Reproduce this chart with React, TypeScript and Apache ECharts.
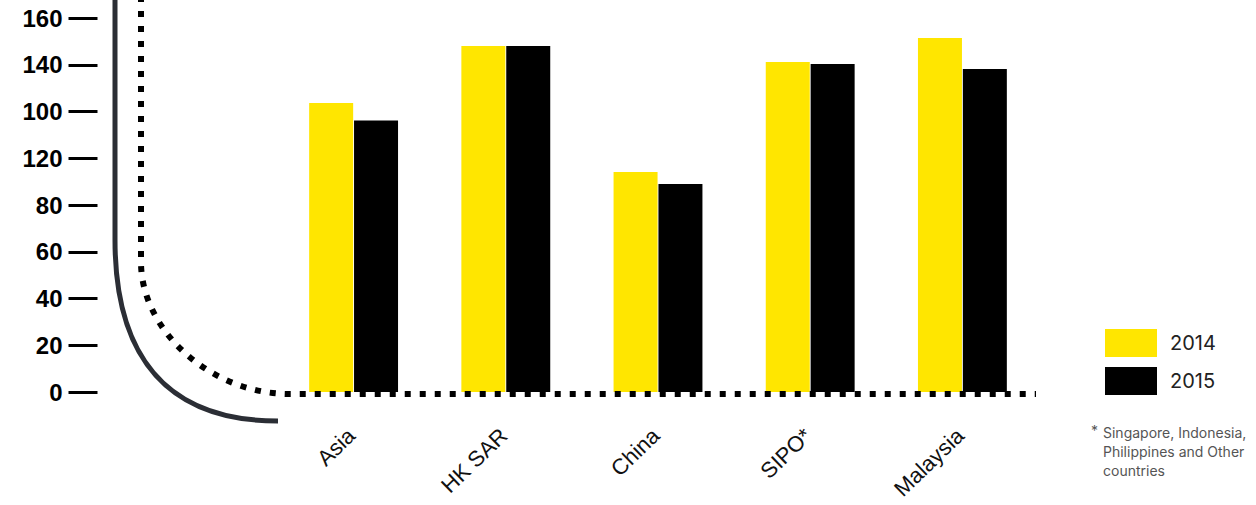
import React, { useEffect, useRef } from "react";
import * as echarts from "echarts";

const categories = ["Asia", "HK SAR", "China", "SIPO*", "Malaysia"];
const values2014 = [123.6, 148, 94.1, 141.2, 151.4];
const values2015 = [116.1, 148, 89.0, 140.3, 138.2];
const yTickLabels = ["0", "20", "40", "60", "80", "120", "100", "140", "160"];
const seriesNames = ["2014", "2015"];
const footnoteLines = ["Singapore, Indonesia,", "Philippines and Other", "countries"];

const YELLOW = "#FFE600";
const BLACK = "#000000";

echarts.graphic.registerShape(
  "solidCurve",
  echarts.graphic.extendPath("M115,-6 L115,240 C115,360 170,421 278,421", {})
);
echarts.graphic.registerShape(
  "dottedCurve",
  echarts.graphic.extendPath("M141,-4 L141,262 C141,330 210,394 290,394 L1036,394", {})
);

export default function App() {
  const ref = useRef<HTMLDivElement>(null);
  useEffect(() => {
    if (!ref.current) return;
    const chart = echarts.init(ref.current, undefined, { renderer: "svg" });
    chart.setOption({
      animation: false,
      backgroundColor: "#ffffff",
      grid: { left: 277.5, right: 217.5, top: 18, bottom: 113, containLabel: false },
      legend: {
        data: seriesNames,
        orient: "vertical",
        left: 1105,
        top: 329,
        padding: 0,
        itemWidth: 52,
        itemHeight: 28,
        itemGap: 10,
        icon: "rect",
        selectedMode: false,
        textStyle: { fontSize: 20, color: "#222", fontFamily: "Inter", padding: [0, 0, 0, 8] },
      },
      xAxis: {
        type: "category",
        data: categories,
        axisLine: { show: false },
        axisTick: { show: false },
        splitLine: { show: false },
        axisLabel: {
          rotate: 44,
          margin: 38,
          fontSize: 22,
          color: "#111",
          fontFamily: "Liberation Sans",
          interval: 0,
          padding: [0, 3, 0, 0],
        },
      },
      yAxis: {
        type: "value",
        min: 0,
        max: 160,
        interval: 20,
        position: "left",
        offset: 180,
        axisLine: { show: false },
        splitLine: { show: false },
        axisTick: { show: true, length: 29, lineStyle: { color: "#000", width: 3 } },
        axisLabel: {
          margin: 35,
          fontSize: 24,
          fontWeight: "bold",
          color: "#000",
          fontFamily: "Liberation Sans",
          formatter: (v: number) => yTickLabels[Math.round(v / 20)] ?? "",
        },
      },
      series: [
        {
          name: seriesNames[0],
          type: "bar",
          data: values2014,
          barWidth: 44,
          barGap: "2%",
          itemStyle: { color: YELLOW },
        },
        {
          name: seriesNames[1],
          type: "bar",
          data: values2015,
          barWidth: 44,
          barGap: "2%",
          itemStyle: { color: BLACK },
        },
      ],
      graphic: [
        {
          type: "solidCurve",
          x: 0,
          y: 0,
          z: 100,
          silent: true,
          style: { fill: "none", stroke: "#2b2e35", lineWidth: 5 },
        },
        {
          type: "dottedCurve",
          x: 0,
          y: 0,
          z: 100,
          silent: true,
          style: { fill: "none", stroke: "#000", lineWidth: 6, lineDash: [6, 9] },
        },
        {
          type: "text",
          x: 1091,
          y: 423,
          z: 100,
          style: { text: "*", fontSize: 14, fill: "#555", fontFamily: "Inter" },
        },
        {
          type: "text",
          x: 1103,
          y: 423,
          z: 100,
          style: {
            text: footnoteLines.join("\n"),
            fontSize: 14,
            lineHeight: 19,
            fill: "#555",
            fontFamily: "Inter",
          },
        },
      ],
    });
    return () => chart.dispose();
  }, []);
  return (
    <div
      ref={ref}
      style={{ position: "absolute", left: 0, top: 0, width: 1256, height: 505 }}
    />
  );
}
